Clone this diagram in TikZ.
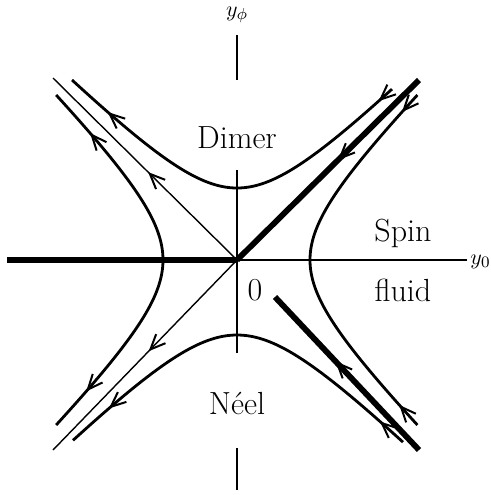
\documentclass[tikz,border=0pt]{standalone}
\usetikzlibrary{decorations.markings,arrows.meta}
\begin{document}
\begin{tikzpicture}[x=0.5pt,y=-0.5pt,
  thinline/.style={line width=0.7pt},
  flow/.style={line width=1.4pt},
  thickline/.style={line width=2.9pt},
  barb/.style={postaction={decorate,decoration={markings,mark=at position #1 with {\arrow[line width=1pt]{Straight Barb[length=7.5pt,width=6.5pt]}}}}},
  lbl/.style={font=\fontsize{16}{19}\selectfont, inner sep=0pt},
  axlbl/.style={font=\fontsize{11}{13}\selectfont, inner sep=0pt}
]
\useasboundingbox (0,0) rectangle (491,495);
\clip (0,0) rectangle (491,495);

% named points
\coordinate (O) at (237,260);
\coordinate (NWend) at (53,78);
\coordinate (SWend) at (53,450);
\coordinate (NEend) at (419,80);
\coordinate (SEstart) at (419,450);
\coordinate (SEend) at (275,297);
\coordinate (Wend) at (7,260);
\coordinate (Eend) at (467,260);
\coordinate (vt1) at (237,35);
\coordinate (vt2) at (237,80);
\coordinate (vm1) at (237,170);
\coordinate (vm2) at (237,353);
\coordinate (vb1) at (237,448);
\coordinate (vb2) at (237,490);

% axes
\draw[thinline] (O) -- (Eend);
\draw[thinline] (vm1) -- (vm2);
\draw[thinline] (vt1) -- (vt2);
\draw[thinline] (vb1) -- (vb2);

% separatrices
\draw[thickline] (Wend) -- (O);
\draw[thickline, barb=57pt] (NEend) -- (O);
\draw[thickline, barb=61pt] (SEstart) -- (SEend);
\draw[thinline, barb=62.5pt] (O) -- (NWend);
\draw[thinline, barb=63.5pt] (O) -- (SWend);

% upper hyperbola (Dimer), flowing right to left
\draw[flow, barb=9pt, barb=-24pt] plot[domain=15.5:-16.5, samples=120] ({237+10*\x},{260-10*sqrt(51.84+\x*\x)});
% lower hyperbola (Neel), flowing right to left
\draw[flow, barb=15.5pt, barb=-24pt] plot[domain=16.6:-16.4, samples=120] ({237+10*\x},{260+10*sqrt(56.25+\x*\x)});
% right hyperbola, flowing from both ends to the vertex
\draw[flow, barb=11.5pt] plot[domain=-16.5:0, samples=80] ({237+10*sqrt(53.29+\x*\x)},{260+10*\x});
\draw[flow, barb=13.5pt] plot[domain=16.5:0, samples=80] ({237+10*sqrt(53.29+\x*\x)},{260+10*\x});
% left hyperbola, flowing from the vertex outwards
\draw[flow, barb=-25.5pt] plot[domain=0:-16.5, samples=80] ({237-10*sqrt(54.76+\x*\x)},{260+10*\x});
\draw[flow, barb=-22.5pt] plot[domain=0:16.5, samples=80] ({237-10*sqrt(54.76+\x*\x)},{260+10*\x});

% labels
\node[lbl] (dimer) at (237,138) {Dimer};
\node[lbl] (neel) at (237,403) {N\'eel};
\node[lbl] (spin) at (403,233) {Spin};
\node[lbl] (fluid) at (403,290) {fluid};
\node[lbl] (zero) at (255,290) {0};
\node[axlbl] (yphi) at (237,15) {$y_\phi$};
\node[axlbl, anchor=west] (yzero) at (470,262) {$y_0$};
\end{tikzpicture}
\end{document}
